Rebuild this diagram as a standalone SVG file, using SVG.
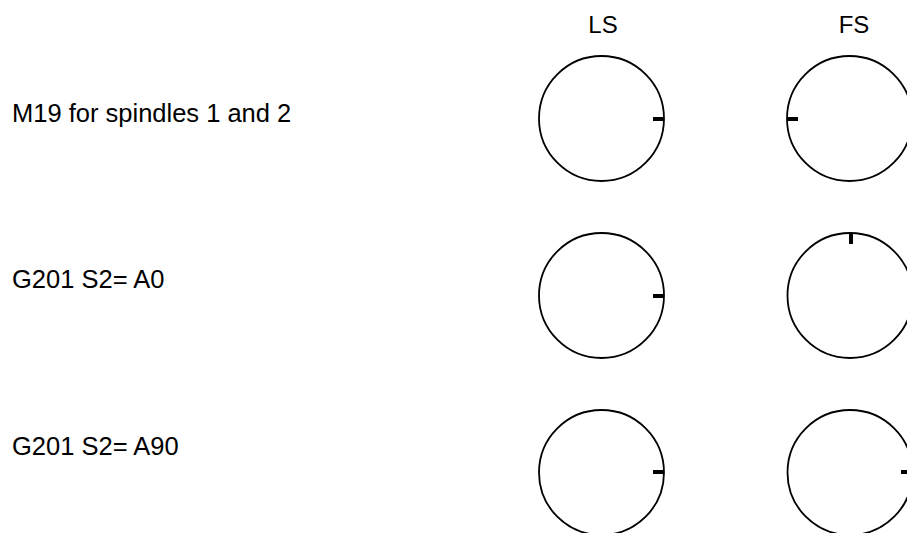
<svg xmlns="http://www.w3.org/2000/svg" width="907" height="533" viewBox="0 0 907 533">
<style>
text{font-family:"Liberation Sans",Arial,sans-serif;fill:#000}
.lbl{font-size:25.5px}
.hdr{font-size:24px;text-anchor:middle}
.dial{fill:none;stroke:#000;stroke-width:1.8}
.tick{stroke:#000;stroke-width:4;fill:none}
</style>
<rect width="907" height="533" fill="#fff"/>
<g id="headers">
<text class="hdr" x="603" y="33">LS</text>
<text class="hdr" x="854" y="33">FS</text>
</g>
<g id="row1">
<text class="lbl" x="12" y="122">M19 for spindles 1 and 2</text>
<g id="ls1"><circle class="dial" cx="601.5" cy="118.5" r="62.5"/><line class="tick" x1="653" y1="119" x2="664" y2="119"/></g>
<g id="fs1"><circle class="dial" cx="849.5" cy="118.5" r="62.5"/><line class="tick" x1="787" y1="119" x2="798" y2="119"/></g>
</g>
<g id="row2">
<text class="lbl" x="12" y="288">G201 S2= A0</text>
<g id="ls2"><circle class="dial" cx="601.5" cy="295.5" r="62.5"/><line class="tick" x1="653" y1="296" x2="664" y2="296"/></g>
<g id="fs2"><circle class="dial" cx="850" cy="295.5" r="62.5"/><line class="tick" x1="851" y1="233" x2="851" y2="244"/></g>
</g>
<g id="row3">
<text class="lbl" x="12" y="455">G201 S2= A90</text>
<g id="ls3"><circle class="dial" cx="601.5" cy="472.5" r="62.5"/><line class="tick" x1="653" y1="472" x2="664" y2="472"/></g>
<g id="fs3"><circle class="dial" cx="850" cy="472.5" r="62.5"/><line class="tick" x1="901" y1="472" x2="912" y2="472"/></g>
</g>
<g id="connectors"/>
</svg>
